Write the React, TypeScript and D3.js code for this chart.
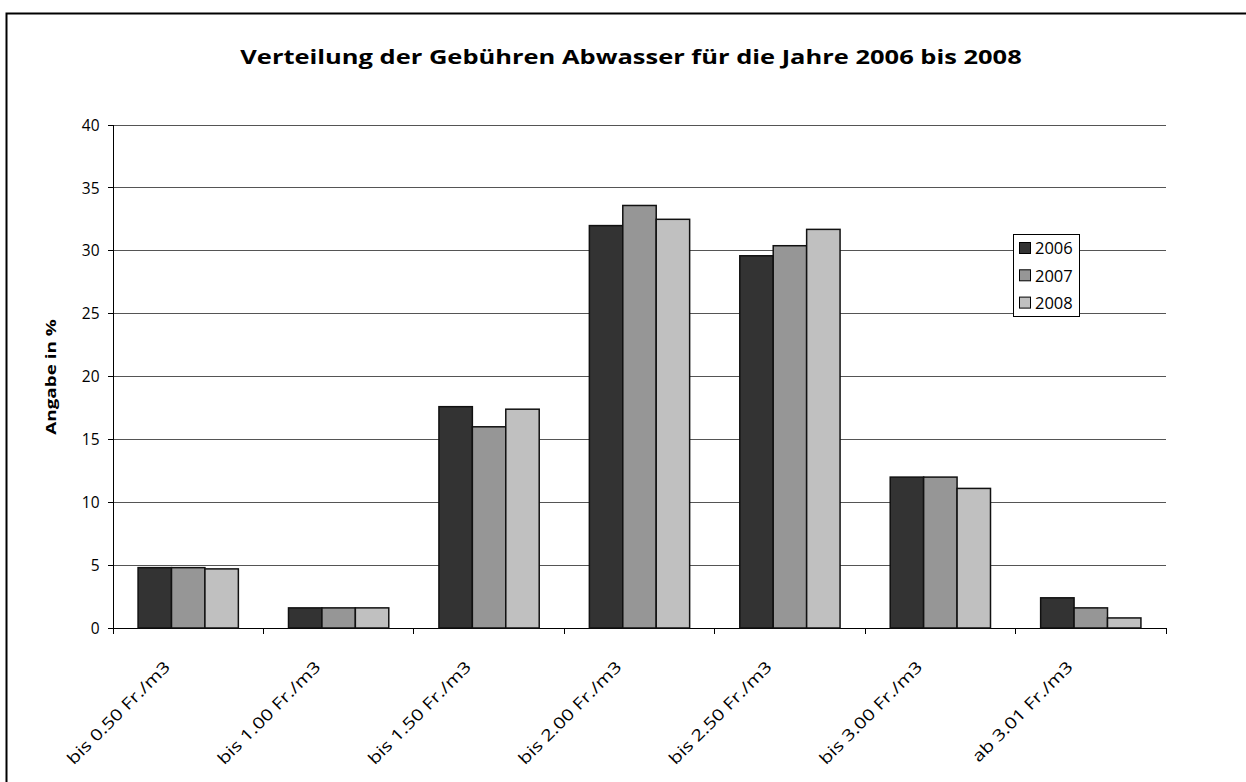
import React from "react";
import * as d3 from "d3";

const categories = [
  "bis 0.50 Fr./m3",
  "bis 1.00 Fr./m3",
  "bis 1.50 Fr./m3",
  "bis 2.00 Fr./m3",
  "bis 2.50 Fr./m3",
  "bis 3.00 Fr./m3",
  "ab 3.01 Fr./m3",
];
const seriesNames = ["2006", "2007", "2008"];
const values2006 = [4.8, 1.6, 17.6, 32.0, 29.6, 12.0, 2.4];
const values2007 = [4.8, 1.6, 16.0, 33.6, 30.4, 12.0, 1.6];
const values2008 = [4.7, 1.6, 17.4, 32.5, 31.7, 11.1, 0.8];
const yTicks = [0, 5, 10, 15, 20, 25, 30, 35, 40];
const colors = ["#333333", "#969696", "#c0c0c0"];

const title = "Verteilung der Gebühren Abwasser für die Jahre 2006 bis 2008";
const yTitle = "Angabe in %";

export default function App() {
  const W = 1246, H = 782;
  const left = 113, right = 1166, top = 125, bottom = 628;
  const font = "'Open Sans', 'Noto Sans', sans-serif";
  const series = [values2006, values2007, values2008];

  const x = d3.scaleBand<string>().domain(categories).range([left, right]).paddingInner(0).paddingOuter(0);
  const y = d3.scaleLinear().domain([0, 40]).range([bottom, top]);
  const bw = x.bandwidth();
  const inner = d3.scaleBand<string>().domain(seriesNames).range([bw * 0.75 / 4.5, bw - bw * 0.75 / 4.5]).padding(0);

  return (
    <svg width={W} height={H} style={{ position: "absolute", left: 0, top: 0, background: "#fff" }}>
      <rect x={0} y={0} width={W} height={H} fill="#fff" />
      {/* outer frame */}
      <rect x={6.5} y={13.5} width={W + 20} height={H + 20} fill="none" stroke="#000" strokeWidth={2} />
      <text transform="translate(631, 64) scale(1.3, 1)" textAnchor="middle" fontFamily={font} fontWeight="bold" fontSize={19.6} fill="#000">
        {title}
      </text>

      {/* gridlines */}
      {yTicks.map((t) => (
        <line key={"g" + t} x1={left} x2={right} y1={y(t)} y2={y(t)} stroke={t === 0 ? "#000" : "#555"} strokeWidth={1} shapeRendering="crispEdges" />
      ))}
      {/* y axis */}
      <line x1={left} x2={left} y1={top} y2={bottom} stroke="#000" strokeWidth={1} shapeRendering="crispEdges" />
      {yTicks.map((t) => (
        <g key={"yt" + t}>
          <line x1={left - 5} x2={left} y1={y(t)} y2={y(t)} stroke="#000" shapeRendering="crispEdges" />
          <text x={99.5} y={y(t) + 5.7} textAnchor="end" fontFamily={font} fontSize={15.5} fill="#000">
            {t}
          </text>
        </g>
      ))}
      <text transform={`translate(55.5, 377) rotate(-90) scale(1.4, 1)`} textAnchor="middle" fontFamily={font} fontWeight="bold" fontSize={13.5} fill="#000">
        {yTitle}
      </text>

      {/* x ticks */}
      {[...categories.map((c) => x(c) as number), right].map((px, i) => (
        <line key={"xt" + i} x1={px} x2={px} y1={bottom} y2={bottom + 6} stroke="#000" shapeRendering="crispEdges" />
      ))}

      {/* bars */}
      {categories.map((c, ci) => (
        <g key={c}>
          {seriesNames.map((s, si) => {
            const v = series[si][ci];
            const bx = (x(c) as number) + (inner(s) as number);
            return (
              <rect key={s} x={bx} y={y(v)} width={inner.bandwidth()} height={bottom - y(v)} fill={colors[si]} stroke="#111" strokeWidth={1.5} />
            );
          })}
        </g>
      ))}

      {/* x labels */}
      {categories.map((c) => {
        const cx = (x(c) as number) + bw / 2 - 17;
        return (
          <text key={"xl" + c} transform={`translate(${cx}, ${bottom + 40}) rotate(-45) scale(1.25, 1)`} textAnchor="end" fontFamily={font} fontSize={16} fill="#000">
            {c}
          </text>
        );
      })}

      {/* legend */}
      <rect x={1013.5} y={234.5} width={66} height={82} fill="#fff" stroke="#000" strokeWidth={1} />
      {seriesNames.map((s, i) => (
        <g key={"lg" + s}>
          <rect x={1019.5} y={242.5 + i * 27.3} width={11} height={11} fill={colors[i]} stroke="#000" strokeWidth={1} />
          <text x={1035} y={254.3 + i * 27.3} fontFamily={font} fontSize={16.5} fill="#000">
            {s}
          </text>
        </g>
      ))}
    </svg>
  );
}
